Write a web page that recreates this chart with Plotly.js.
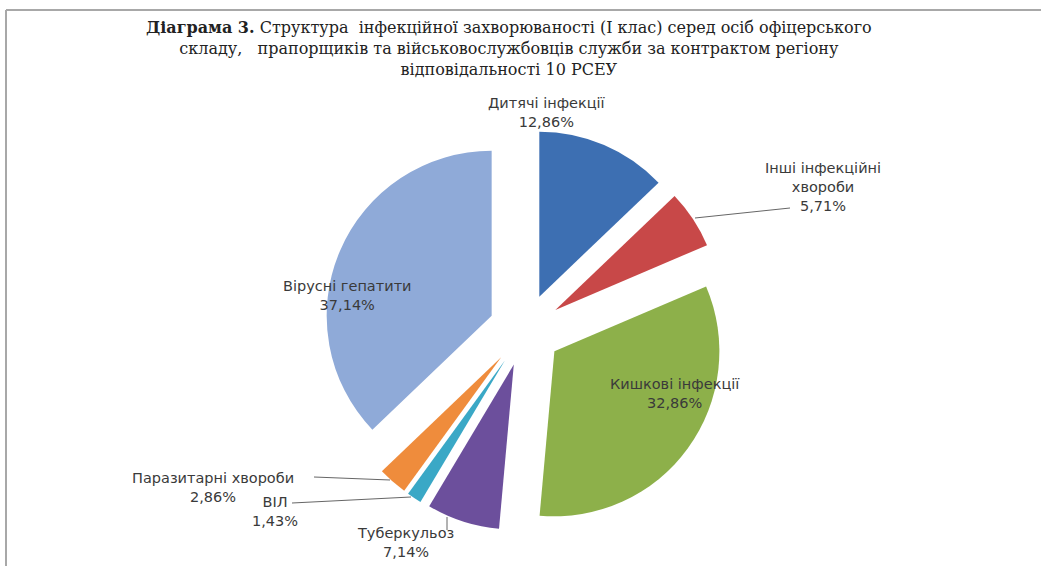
<!DOCTYPE html>
<html>
<head>
<meta charset="utf-8">
<script src="https://cdn.plot.ly/plotly-3.0.1.min.js"></script>
<style>
  html, body { margin: 0; padding: 0; background: #fff; }
  #chart { width: 1041px; height: 566px; }
</style>
</head>
<body>
<div id="chart"></div>
<script>
// ---- data ----
const categories = ['Дитячі інфекції', 'Інші інфекційні хвороби', 'Кишкові інфекції', 'Туберкульоз', 'ВІЛ', 'Паразитарні хвороби', 'Вірусні гепатити'];
const values = [12.86, 5.71, 32.86, 7.14, 1.43, 2.86, 37.14];
const displayLabels = ['Дитячі інфекції', 'Інші інфекційні<br>хвороби', 'Кишкові інфекції', 'Туберкульоз', 'ВІЛ', 'Паразитарні хвороби', 'Вірусні гепатити'];
const colors = ['#3d6fb2', '#c84848', '#8db04a', '#6c4f9c', '#3aa8c6', '#ef8c3c', '#8faad8'];
const titleText = '<b>Діаграма 3.</b> Структура\u00a0 інфекційної захворюваності (І клас) серед осіб офіцерського<br>складу,\u00a0\u00a0 прапорщиків та військовослужбовців служби за контрактом регіону<br>відповідальності 10 РСЕУ';

// ---- layout helpers ----
const W = 1041, H = 566;
const px = x => x / W;
const py = y => 1 - y / H;

// label block centres (pixels) and leader lines (pixels)
const labelPos = [[547, 113], [823, 187], [675, 393], [405, 542], [275, 511], [213, 487], [347, 295]];
const leaders = [[695, 218, 790, 208], [292, 503, 411, 497], [314, 477, 390, 480], [447, 517, 447, 530]];

const fmt = v => v.toFixed(2).replace('.', ',') + '%';

const annotations = categories.map((c, i) => ({
  xref: 'paper', yref: 'paper',
  x: px(labelPos[i][0]), y: py(labelPos[i][1]),
  xanchor: 'center', yanchor: 'middle',
  text: displayLabels[i] + '<br>' + fmt(values[i]),
  showarrow: false,
  font: { family: 'DejaVu Sans, sans-serif', size: 14.5, color: '#3a3a3a' }
}));

annotations.push({
  xref: 'paper', yref: 'paper',
  x: px(509), y: py(48),
  xanchor: 'center', yanchor: 'middle',
  text: titleText,
  showarrow: false,
  font: { family: 'DejaVu Serif, serif', size: 16, color: '#222' }
});

const shapes = [
  { type: 'line', xref: 'paper', yref: 'paper', x0: px(6), y0: py(10), x1: 1, y1: py(10), line: { color: '#a8a8a8', width: 2 } },
  { type: 'line', xref: 'paper', yref: 'paper', x0: px(6), y0: py(10), x1: px(6), y1: 0, line: { color: '#a8a8a8', width: 2 } }
].concat(leaders.map(l => ({
  type: 'line', xref: 'paper', yref: 'paper',
  x0: px(l[0]), y0: py(l[1]), x1: px(l[2]), y1: py(l[3]),
  line: { color: '#666', width: 1 }
})));

const trace = {
  type: 'pie',
  labels: categories,
  values: values,
  sort: false,
  direction: 'clockwise',
  rotation: 0,
  pull: 0.22,
  textinfo: 'none',
  hoverinfo: 'label+percent',
  marker: { colors: colors, line: { width: 0 } },
  domain: { x: [0.3110, 0.6977], y: [0.0613, 0.7726] },
  showlegend: false
};

const layout = {
  width: W, height: H,
  margin: { l: 0, r: 0, t: 0, b: 0 },
  paper_bgcolor: '#ffffff',
  showlegend: false,
  annotations: annotations,
  shapes: shapes
};

Plotly.newPlot('chart', [trace], layout, { displayModeBar: false, staticPlot: true });
</script>
</body>
</html>
